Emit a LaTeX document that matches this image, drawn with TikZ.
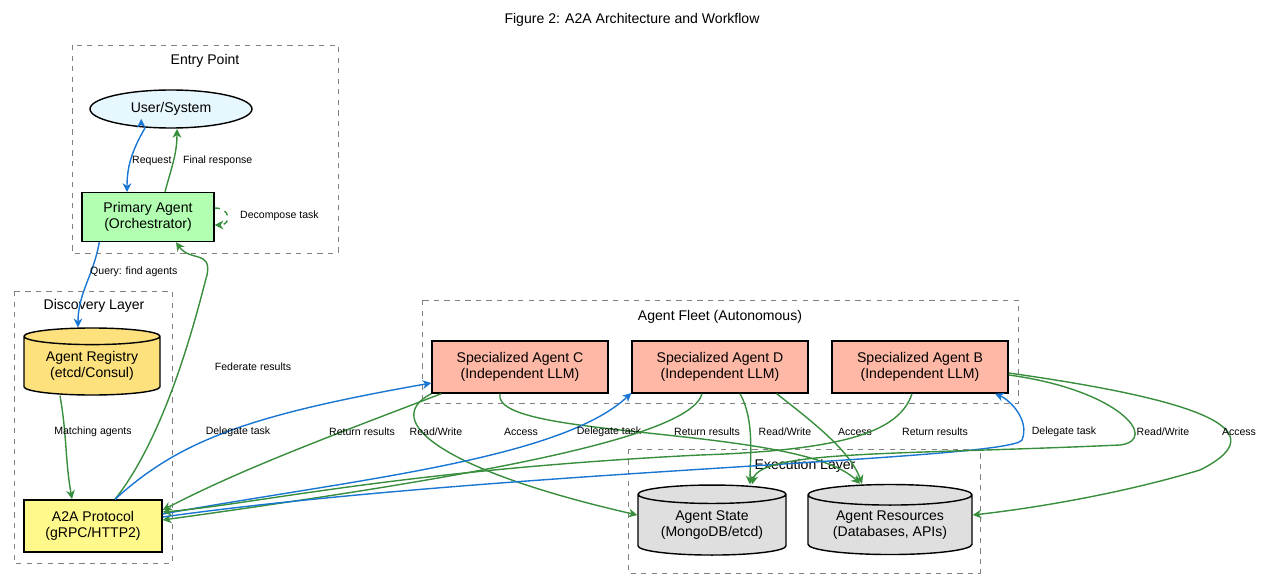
\documentclass[tikz,border=0pt]{standalone}
\usepackage{fontspec}
\setmainfont{Liberation Sans}
\usetikzlibrary{shapes.geometric,arrows.meta,positioning}
\definecolor{flowblue}{HTML}{1976D2}
\definecolor{flowgreen}{HTML}{388E3C}
\begin{document}
\begin{tikzpicture}[x=0.02cm,y=-0.02cm,>={Stealth[length=5pt,width=5pt]},
    box/.style={draw,thick,font=\fontsize{8}{9.5}\selectfont,align=center,inner sep=0pt},
    db/.style={box,cylinder,shape border rotate=90,aspect=0.18},
    cluster/.style={draw=gray,dashed},
    ctitle/.style={font=\fontsize{8}{9.5}\selectfont},
    lbl/.style={font=\fontsize{6}{7}\selectfont},
    ask/.style={->,thick,flowblue},
    reply/.style={->,thick,flowgreen}]
\useasboundingbox (0,0) rectangle (1264,588);
\node[font=\fontsize{8}{9.5}\selectfont] at (632,20) {Figure 2: A2A Architecture and Workflow};
% clusters
\draw[cluster] (72,45) rectangle (338,253);
\node[ctitle] at (205,61) {Entry Point};
\draw[cluster] (14,291) rectangle (172,563);
\node[ctitle] at (94,306) {Discovery Layer};
\draw[cluster] (422,300) rectangle (1018,403);
\node[ctitle] at (720,317) {Agent Fleet (Autonomous)};
\draw[cluster] (628,449) rectangle (980,573);
\node[ctitle] at (805,466) {Execution Layer};
% nodes
\node[box,ellipse,fill=cyan!10,minimum width=162*0.02cm,minimum height=38*0.02cm] (user) at (171,109) {User/System};
\node[box,fill=green!35!gray!40,minimum width=132*0.02cm,minimum height=49*0.02cm,fill=green!30] (primary) at (148,217) {Primary Agent\\(Orchestrator)};
\node[db,fill=yellow!60!orange!50,minimum width=136*0.02cm,minimum height=67*0.02cm] (registry) at (92,366) {Agent Registry\\(etcd/Consul)};
\node[box,fill=yellow!45,minimum width=138*0.02cm,minimum height=52*0.02cm] (a2a) at (93,526) {A2A Protocol\\(gRPC/HTTP2)};
\node[box,fill=orange!40!red!35,minimum width=176*0.02cm,minimum height=52*0.02cm] (agentc) at (520,367) {Specialized Agent C\\(Independent LLM)};
\node[box,fill=orange!40!red!35,minimum width=176*0.02cm,minimum height=52*0.02cm] (agentd) at (720,367) {Specialized Agent D\\(Independent LLM)};
\node[box,fill=orange!40!red!35,minimum width=176*0.02cm,minimum height=52*0.02cm] (agentb) at (920,367) {Specialized Agent B\\(Independent LLM)};
\node[db,fill=gray!25,minimum width=148*0.02cm,minimum height=70*0.02cm] (state) at (712,525) {Agent State\\(MongoDB/etcd)};
\node[db,fill=gray!25,minimum width=164*0.02cm,minimum height=70*0.02cm] (resources) at (890,525) {Agent Resources\\(Databases, APIs)};
% entry flow
\draw[ask] (user.south west) ++(28,-4) coordinate (u1);
\draw[ask] (145,128) to[out=-120,in=90] (127,192) ;
\node[lbl,anchor=west] at (126,161) {Request};
\draw[reply] (primary.north) ++(17,0) to[out=75,in=-90] (177,129);
\node[lbl,anchor=west] at (177,161) {Final response};
\draw[reply,dashed] (primary.east) ++(0,-9) to[out=0,in=0,looseness=2.5] ([yshift=-8*0.02cm]primary.east);
\node[lbl,anchor=west] at (234,216) {Decompose task};
% discovery
\draw[ask] (primary.south west) ++(18,0) to[out=-100,in=90] (registry.north -| 78,0);
\node[lbl,anchor=west] at (84,272) {Query: find agents};
\draw[reply] (registry.south) ++(-32,0) to[out=-80,in=100] (72,499);
\node[lbl] at (93,432) {Matching agents};
\draw[reply] (a2a.north) ++(22,0) .. controls (170,430) and (200,300) .. (207,275)
    .. controls (212,250) and (190,262) .. (primary.south -| 176,0);
\node[lbl] at (253,367) {Federate results};
% delegation
\draw[ask] (a2a.north) ++(22,0) .. controls (180,440) and (250,415) .. (agentc.south west |- 0,383);
\node[lbl] at (238,432) {Delegate task};
\draw[reply] (agentc.south west) ++(10,0) .. controls (320,440) and (240,470) .. (a2a.east |- 0,510);
\node[lbl] at (362,432) {Return results};
\draw[reply] (agentc.south west) ++(0,0) .. controls (380,420) and (440,470) .. (state.west |- 0,515);
\node[lbl] at (436,432) {Read/Write};
\draw[reply] (agentc.south) ++(-20,0) .. controls (490,440) and (800,425) .. (resources.north -| 860,0);
\node[lbl] at (521,432) {Access};
\draw[ask] (a2a.east |- 0,514) .. controls (350,480) and (560,460) .. (agentd.south west |- 645,393);
\node[lbl] at (609,432) {Delegate task};
\draw[reply] (agentd.south) ++(-18,0) .. controls (690,440) and (450,480) .. (a2a.east |- 0,520);
\node[lbl] at (707,432) {Return results};
\draw[reply] (agentd.south) ++(20,0) .. controls (755,420) and (750,460) .. (state.north -| 750,0);
\node[lbl] at (785,432) {Read/Write};
\draw[reply] (agentd.south east) ++(-32,0) .. controls (810,420) and (850,450) .. (resources.north -| 862,0);
\node[lbl] at (855,432) {Access};
\draw[ask] (a2a.east |- 0,517) .. controls (500,470) and (1010,460) .. (1022,440)
    .. controls (1030,420) and (1010,400) .. (agentb.south east -| 995,0);
\node[lbl] at (1064,432) {Delegate task};
\draw[reply] (agentb.south) ++(-8,0) .. controls (900,430) and (850,450) .. (700,455)
    .. controls (400,470) and (250,505) .. (a2a.east |- 0,512);
\node[lbl] at (935,432) {Return results};
\draw[reply] (agentb.east |- 0,375) .. controls (1120,390) and (1160,440) .. (1120,445)
    .. controls (900,455) and (760,450) .. (state.north -| 752,0);
\node[lbl] at (1163,432) {Read/Write};
\draw[reply] (agentb.east |- 0,373) .. controls (1200,400) and (1280,430) .. (1200,470)
    .. controls (1100,500) and (1000,512) .. (resources.east |- 0,515);
\node[lbl] at (1239,432) {Access};
\end{tikzpicture}
\end{document}
